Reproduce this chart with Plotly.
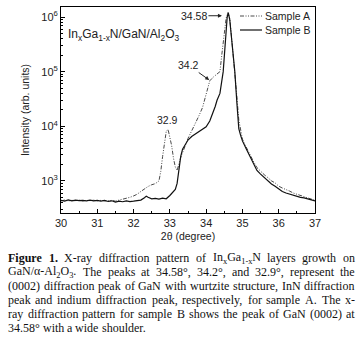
import re
import plotly.graph_objects as go

# ---------------- data ----------------
two_theta_a = [30.0, 30.1, 30.2, 30.3, 30.4, 30.5, 30.6, 30.7, 30.8, 30.9, 31.0, 31.1, 31.2, 31.3, 31.4,
               31.5, 31.6, 31.7, 31.8, 31.9, 32.0, 32.1, 32.2, 32.3, 32.4, 32.5, 32.6, 32.7, 32.75, 32.8,
               32.85, 32.9, 32.95, 33.0, 33.05, 33.1, 33.15, 33.2, 33.25, 33.3, 33.4, 33.5, 33.6, 33.7,
               33.8, 33.9, 34.0, 34.1, 34.2, 34.3, 34.38, 34.43, 34.5, 34.55, 34.6, 34.65, 34.7, 34.75,
               34.8, 34.85, 34.9, 34.95, 35.0, 35.1, 35.2, 35.3, 35.4, 35.5, 35.6, 35.7, 35.8, 35.9, 36.0,
               36.1, 36.2, 36.3, 36.4, 36.5, 36.6, 36.7, 36.8, 36.9, 37.0]
intensity_a = [430, 445, 430, 440, 432, 445, 430, 440, 435, 442, 430, 440, 432, 428, 440,
               425, 445, 460, 480, 500, 530, 570, 640, 720, 790, 850, 890, 1000, 1500, 2800,
               5000, 8000, 8800, 6500, 4400, 2600, 1800, 1550, 2000, 2700, 4000, 6000, 8200, 11000,
               15500, 22000, 40000, 68000, 80000, 90000, 100000, 200000, 550000, 950000, 1200000, 950000,
               430000, 200000, 80000, 33000, 13000, 8000, 5800, 4200, 3000, 2300, 1750, 1480, 1300,
               1150, 1000, 920, 800, 740, 700, 650, 600, 570, 540, 520, 500, 470, 440]

two_theta_b = [30.0, 30.1, 30.2, 30.3, 30.4, 30.5, 30.6, 30.7, 30.8, 30.9, 31.0, 31.1, 31.2, 31.3, 31.4,
               31.5, 31.6, 31.7, 31.8, 31.9, 32.0, 32.1, 32.2, 32.3, 32.35, 32.4, 32.5, 32.6, 32.7, 32.8,
               32.9, 33.0, 33.1, 33.15, 33.2, 33.25, 33.3, 33.35, 33.4, 33.5, 33.6, 33.7, 33.8, 33.9, 34.0,
               34.1, 34.2, 34.25, 34.3, 34.38, 34.47, 34.53, 34.58, 34.61, 34.65, 34.7, 34.79, 34.85,
               34.9, 34.95, 35.0, 35.1, 35.2, 35.3, 35.4, 35.5, 35.6, 35.7, 35.8, 35.9, 36.0, 36.1, 36.2,
               36.3, 36.4, 36.5, 36.6, 36.7, 36.8, 36.9, 37.0]
intensity_b = [440, 425, 450, 430, 445, 435, 440, 430, 445, 432, 438, 428, 440, 420, 432,
               410, 425, 415, 430, 418, 425, 430, 445, 490, 525, 500, 470, 480, 465, 485,
               470, 540, 640, 700, 900, 1700, 2800, 3800, 4300, 5600, 6500, 7200, 7900, 8700, 9800,
               12500, 18000, 23000, 30000, 40000, 100000, 400000, 1000000, 1200000, 900000, 410000,
               100000, 25000, 9000, 6800, 5400, 3900, 2800, 2100, 1550, 1330, 1150, 1000, 880, 800,
               720, 640, 600, 570, 545, 520, 500, 490, 470, 455, 430]

x_ticks = [30, 31, 32, 33, 34, 35, 36, 37]
y_tickvals = [1e3, 1e4, 1e5, 1e6]
y_ticktext = ["10<sup>3</sup>", "10<sup>4</sup>", "10<sup>5</sup>", "10<sup>6</sup>"]
y_minor = [m * 10 ** e for e in range(2, 7) for m in range(2, 10)]

peak_labels = ["34.58", "34.2", "32.9"]
series_names = ["Sample A", "Sample B"]

caption_lines = [
    "<b>Figure</b> <b>1.</b> X-ray diffraction pattern of In<sub>x</sub>Ga<sub>1-x</sub>N layers growth on",
    "GaN/α-Al<sub>2</sub>O<sub>3</sub>. The peaks at 34.58°, 34.2°, and 32.9°, represent the",
    "(0002) diffraction peak of GaN with wurtzite structure, InN diffraction",
    "peak and indium diffraction peak, respectively, for sample A. The x-",
    "ray diffraction pattern for sample B shows the peak of GaN (0002) at",
    "34.58° with a wide shoulder.",
]

# ---------------- layout geometry ----------------
W, H = 362, 339
L, R, T, B = 61, 315, 7, 213
PW, PH = R - L, B - T

SANS = "Liberation Sans, Arial, sans-serif"
SERIF = "Liberation Serif, Times New Roman, serif"

styles = [dict(color="#4a4a4a", width=1, dash="4px,1.5px,1px,1.5px,1px,1.5px"),
          dict(color="#111111", width=1.2)]

fig = go.Figure()
fig.add_trace(go.Scatter(x=two_theta_a, y=intensity_a, mode="lines", name=series_names[0],
                         line=styles[0], showlegend=False))
fig.add_trace(go.Scatter(x=two_theta_b, y=intensity_b, mode="lines", name=series_names[1],
                         line=styles[1], showlegend=False))

axis_common = dict(showline=True, linecolor="black", linewidth=1, mirror=True, showgrid=False,
                   zeroline=False, ticks="inside", ticklen=4, tickcolor="black",
                   tickfont=dict(family=SANS, size=11, color="#222"))
fig.update_xaxes(range=[30, 37], tickvals=x_ticks, **axis_common,
                 minor=dict(dtick=0.5, ticks="inside", ticklen=2, tickcolor="black"),
                 title=dict(text="2θ (degree)", font=dict(family=SANS, size=10.5, color="#222"), standoff=4))
fig.update_yaxes(type="log", range=[2.412, 6.184], tickvals=y_tickvals, ticktext=y_ticktext, **axis_common,
                 minor=dict(tickvals=y_minor, ticks="inside", ticklen=2, tickcolor="black"),
                 title=dict(text="Intensity (arb. units)", font=dict(family=SANS, size=10.5, color="#222"),
                            standoff=9))

def px2paper_x(px):
    return (px - L) / PW

def px2paper_y(py):
    return (B - py) / PH

ann = []
shapes = []
# peak annotations (y in log10 for log axis)
ann.append(dict(x=34.435, y=6.024, xref="x", yref="y", text=peak_labels[0], showarrow=True,
                ax=-28, ay=0, arrowhead=2, arrowsize=0.8, arrowwidth=1, arrowcolor="#222",
                font=dict(family=SANS, size=10.5, color="#222")))
ann.append(dict(x=34.085, y=4.847, xref="x", yref="y", text=peak_labels[1], showarrow=True,
                ax=-21, ay=-15, arrowhead=2, arrowsize=0.8, arrowwidth=1, arrowcolor="#222",
                font=dict(family=SANS, size=10.5, color="#222")))
ann.append(dict(x=32.934, y=4.112, xref="x", yref="y", text=peak_labels[2], showarrow=False,
                font=dict(family=SANS, size=10.5, color="#222")))
ann.append(dict(x=px2paper_x(66), y=px2paper_y(35), xref="paper", yref="paper", xanchor="left",
                yanchor="middle", showarrow=False,
                text="In<sub>x</sub>Ga<sub>1-x</sub>N/GaN/Al<sub>2</sub>O<sub>3</sub>",
                font=dict(family=SANS, size=12, color="#222")))

# ---------------- legend (drawn as key lines + labels) ----------------
for k, (name, st) in enumerate(zip(series_names, styles)):
    ly = 16 + 14 * k
    shapes.append(dict(type="line", xref="paper", yref="paper",
                       x0=px2paper_x(240), x1=px2paper_x(262), y0=px2paper_y(ly), y1=px2paper_y(ly),
                       line=st))
    ann.append(dict(x=px2paper_x(264), y=px2paper_y(ly), xref="paper", yref="paper", xanchor="left",
                    yanchor="middle", showarrow=False, text=name, borderpad=0,
                    font=dict(family=SANS, size=10.5, color="#222")))

# ---------------- justified caption ----------------
TIMES = {' ': 250, '!': 333, '(': 333, ')': 333, ',': 250, '-': 333, '.': 250, '/': 278, ':': 278,
         '°': 400, 'α': 550}
for d in "0123456789":
    TIMES[d] = 500
TIMES.update(dict(A=722, B=667, C=667, D=722, E=611, F=556, G=722, H=722, I=333, J=389, K=722, L=611,
                  M=889, N=722, O=722, P=556, Q=722, R=667, S=556, T=611, U=722, V=722, W=944, X=722,
                  Y=722, Z=611))
TIMES.update(dict(a=444, b=500, c=444, d=500, e=444, f=333, g=500, h=500, i=278, j=278, k=500, l=278,
                  m=778, n=500, o=500, p=500, q=500, r=333, s=389, t=278, u=500, v=500, w=722, x=500,
                  y=500, z=444))
TIMES_B = dict(TIMES)
TIMES_B.update(dict(F=611, i=278, g=500, u=556, r=444, e=444))

FS = 12.0

def word_width(word):
    bold = sub = False
    total = 0.0
    for tok in re.split(r"(<[^>]+>)", word):
        if not tok:
            continue
        if tok.startswith("<"):
            tag = tok.strip("<>/")
            state = not tok.startswith("</")
            if tag == "b":
                bold = state
            elif tag in ("sub", "sup"):
                sub = state
            continue
        table = TIMES_B if bold else TIMES
        for ch in tok:
            total += table.get(ch, 500) * (0.7 if sub else 1.0)
    return total / 1000.0 * FS

X0, X1 = 7, 354
for i, line in enumerate(caption_lines):
    words = line.split(" ")
    widths = [word_width(w) for w in words]
    cy = 258.3 + 14.0 * i
    if i < len(caption_lines) - 1 and len(words) > 1:
        gap = (X1 - X0 - sum(widths)) / (len(words) - 1)
    else:
        gap = TIMES[' '] / 1000.0 * FS
    xpos = X0
    for w, wd in zip(words, widths):
        ann.append(dict(x=px2paper_x(xpos), y=px2paper_y(cy), xref="paper", yref="paper",
                        xanchor="left", yanchor="middle", showarrow=False, text=w, borderpad=0,
                        font=dict(family=SERIF, size=FS, color="#111")))
        xpos += wd + gap

fig.update_layout(
    width=W, height=H, margin=dict(l=L, r=W - R, t=T, b=H - B, autoexpand=False),
    plot_bgcolor="white", paper_bgcolor="white",
    annotations=ann, shapes=shapes,
    showlegend=False,
)

fig.write_html("out.html", config={"displayModeBar": False},
               post_script="document.body.style.margin='0';document.body.style.padding='0';")
